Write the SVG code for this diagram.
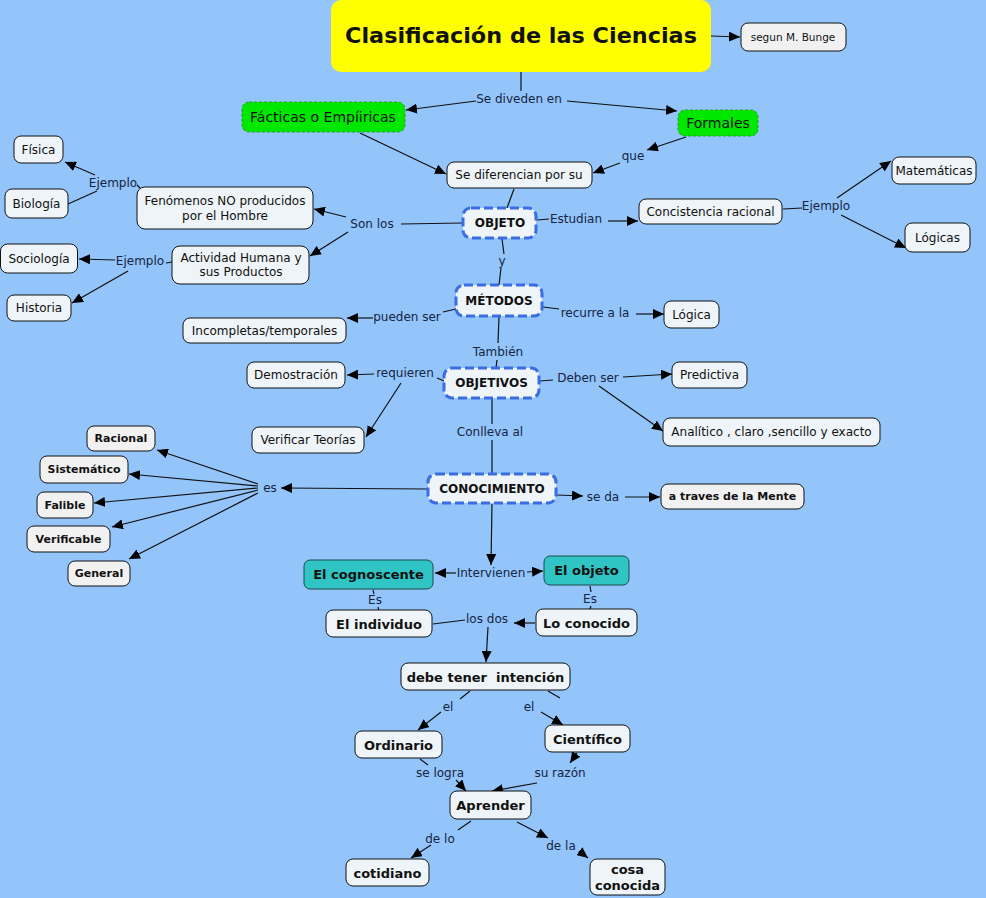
<svg xmlns="http://www.w3.org/2000/svg" width="986" height="898" viewBox="0 0 986 898">
<defs>
<style>
.bg{fill:#93c5fb}
.n rect{fill:#eef4f8;stroke:#111;stroke-width:1}
.gr rect{fill:#f1f1f1}
.d rect{fill:#eef4f8;stroke:#3a6de3;stroke-width:3;stroke-dasharray:9 4}
.g rect{fill:#00e800;stroke:#2a9a2a;stroke-width:1;stroke-dasharray:3 2}
.tl rect{fill:#30c4c4;stroke:#1c4a4a;stroke-width:1}
text{font-family:"DejaVu Sans",Verdana,sans-serif;font-size:12px;fill:#111;text-anchor:middle;dominant-baseline:central}
.b{font-weight:bold}
.s11{font-size:11px}
.s13{font-size:13px}
.s14{font-size:14px}
.lb text{fill:#15243f}
.c line{stroke:#111;stroke-width:1.2}
.c line.a{marker-end:url(#ah)}
</style>
<marker id="ah" markerUnits="userSpaceOnUse" markerWidth="12" markerHeight="10" refX="11" refY="5" orient="auto">
<path d="M0,0 L11,5 L0,10 z" fill="#000"/>
</marker>
</defs>
<rect class="bg" x="0" y="0" width="986" height="898"/>

<g id="connectors" class="c">
<line class="a" x1="711" y1="36" x2="740" y2="37"/>
<line x1="521" y1="72" x2="521" y2="91"/>
<line class="a" x1="476" y1="101" x2="406" y2="110"/>
<line class="a" x1="567" y1="101" x2="677" y2="111"/>
<line class="a" x1="360" y1="133" x2="446" y2="174"/>
<line class="a" x1="686" y1="137" x2="647" y2="150"/>
<line class="a" x1="620" y1="163" x2="593" y2="173"/>
<line x1="514" y1="189" x2="507" y2="208"/>
<line x1="463" y1="223" x2="401" y2="224"/>
<line class="a" x1="346" y1="217" x2="314" y2="209"/>
<line class="a" x1="348" y1="232" x2="310" y2="256"/>
<line x1="137" y1="185" x2="140" y2="188"/>
<line class="a" x1="95" y1="175" x2="65" y2="162"/>
<line x1="97" y1="191" x2="68" y2="204"/>
<line x1="166" y1="263" x2="172" y2="262"/>
<line class="a" x1="115" y1="260" x2="79" y2="259"/>
<line class="a" x1="128" y1="271" x2="72" y2="303"/>
<line x1="537" y1="220" x2="549" y2="219"/>
<line class="a" x1="608" y1="221" x2="638" y2="221"/>
<line x1="783" y1="209" x2="802" y2="208"/>
<line class="a" x1="837" y1="198" x2="891" y2="161"/>
<line class="a" x1="841" y1="215" x2="906" y2="248"/>
<line x1="502" y1="239" x2="504" y2="254"/>
<line x1="501" y1="268" x2="499" y2="285"/>
<line x1="456" y1="309" x2="443" y2="312"/>
<line class="a" x1="373" y1="318" x2="347" y2="318"/>
<line x1="543" y1="307" x2="559" y2="309"/>
<line class="a" x1="636" y1="314" x2="664" y2="314"/>
<line x1="499" y1="317" x2="498" y2="343"/>
<line x1="497" y1="360" x2="496" y2="368"/>
<line x1="444" y1="381" x2="437" y2="378"/>
<line class="a" x1="374" y1="374" x2="347" y2="375"/>
<line class="a" x1="401" y1="383" x2="366" y2="437"/>
<line x1="540" y1="381" x2="553" y2="380"/>
<line class="a" x1="623" y1="377" x2="672" y2="374"/>
<line class="a" x1="599" y1="386" x2="663" y2="431"/>
<line x1="492" y1="399" x2="492" y2="424"/>
<line x1="492" y1="440" x2="492" y2="474"/>
<line class="a" x1="428" y1="489" x2="281" y2="488"/>
<line class="a" x1="258" y1="484" x2="157" y2="450"/>
<line class="a" x1="258" y1="486" x2="129" y2="474"/>
<line class="a" x1="258" y1="488" x2="94" y2="503"/>
<line class="a" x1="258" y1="490" x2="112" y2="527"/>
<line class="a" x1="258" y1="493" x2="129" y2="559"/>
<line class="a" x1="557" y1="495" x2="583" y2="496"/>
<line class="a" x1="625" y1="497" x2="660" y2="497"/>
<line class="a" x1="492" y1="504" x2="491" y2="565"/>
<line class="a" x1="456" y1="573" x2="435" y2="573"/>
<line class="a" x1="527" y1="572" x2="543" y2="571"/>
<line x1="373" y1="590" x2="374" y2="594"/>
<line x1="378" y1="607" x2="379" y2="611"/>
<line x1="590" y1="586" x2="591" y2="592"/>
<line x1="591" y1="606" x2="590" y2="609"/>
<line x1="433" y1="624" x2="465" y2="620"/>
<line class="a" x1="535" y1="623" x2="514" y2="623"/>
<line class="a" x1="488" y1="627" x2="486" y2="662"/>
<line x1="470" y1="691" x2="460" y2="699"/>
<line class="a" x1="441" y1="712" x2="418" y2="730"/>
<line x1="548" y1="691" x2="560" y2="698"/>
<line class="a" x1="541" y1="712" x2="563" y2="725"/>
<line x1="420" y1="759" x2="428" y2="765"/>
<line class="a" x1="456" y1="780" x2="466" y2="791"/>
<line class="a" x1="577" y1="753" x2="570" y2="763"/>
<line class="a" x1="537" y1="783" x2="492" y2="791"/>
<line x1="471" y1="821" x2="458" y2="830"/>
<line class="a" x1="431" y1="845" x2="411" y2="858"/>
<line class="a" x1="517" y1="822" x2="548" y2="838"/>
<line class="a" x1="579" y1="851" x2="588" y2="858"/>
</g>

<g id="labels" class="lb">
<text x="519" y="99">Se diveden en</text>
<text x="633" y="156">que</text>
<text x="372" y="224">Son los</text>
<text x="113" y="183">Ejemplo</text>
<text x="140" y="261">Ejemplo</text>
<text x="576" y="219">Estudian</text>
<text x="826" y="206">Ejemplo</text>
<text x="502" y="261">y</text>
<text x="407" y="317">pueden ser</text>
<text x="595" y="313">recurre a la</text>
<text x="498" y="352">También</text>
<text x="405" y="373">requieren</text>
<text x="588" y="378">Deben ser</text>
<text x="490" y="432">Conlleva al</text>
<text x="270" y="488">es</text>
<text x="603" y="497">se da</text>
<text x="491" y="573">Intervienen</text>
<text x="375" y="600">Es</text>
<text x="590" y="599">Es</text>
<text x="487" y="619">los dos</text>
<text x="448" y="707">el</text>
<text x="529" y="707">el</text>
<text x="440" y="773">se logra</text>
<text x="560" y="773">su razón</text>
<text x="440" y="839">de lo</text>
<text x="561" y="846">de la</text>
</g>

<g id="title">
<rect x="331" y="0" width="380" height="72" rx="10" fill="#ffff00"/>
<text class="b" x="521" y="36" style="font-size:21px" textLength="352" lengthAdjust="spacingAndGlyphs">Clasificación de las Ciencias</text>
</g>
<g id="bunge" class="n gr"><rect x="741" y="23" width="105" height="28" rx="7"/><text x="793" y="37" style="font-size:10.5px">segun M. Bunge</text></g>
<g id="facticas" class="g"><rect x="242" y="102" width="163" height="30" rx="7"/><text class="s14" x="323" y="117">Fácticas o Empíiricas</text></g>
<g id="formales" class="g"><rect x="678" y="110" width="80" height="26" rx="7"/><text class="s14" x="718" y="123">Formales</text></g>
<g id="diferencian" class="n"><rect x="447" y="162" width="145" height="26" rx="7"/><text x="519" y="175">Se diferencian por su</text></g>
<g id="objeto" class="d"><rect x="463" y="208" width="73" height="30" rx="8"/><text class="b" x="500" y="223">OBJETO</text></g>
<g id="fenomenos" class="n"><rect x="137" y="187" width="176" height="42" rx="8"/><text x="225" y="201">Fenómenos NO producidos</text><text x="225" y="216">por el Hombre</text></g>
<g id="actividad" class="n"><rect x="172" y="246" width="137" height="38" rx="8"/><text x="241" y="258">Actividad Humana y</text><text x="241" y="272">sus Productos</text></g>
<g id="fisica" class="n"><rect x="14" y="136" width="49" height="27" rx="7"/><text x="38.5" y="150">Física</text></g>
<g id="biologia" class="n"><rect x="5" y="189" width="63" height="29" rx="7"/><text x="36.5" y="204">Biología</text></g>
<g id="sociologia" class="n"><rect x="0.5" y="244" width="77" height="29" rx="7"/><text x="39" y="259">Sociología</text></g>
<g id="historia" class="n"><rect x="7" y="295" width="64" height="26" rx="7"/><text x="39" y="308">Historia</text></g>
<g id="concistencia" class="n"><rect x="639" y="199" width="143" height="25" rx="7"/><text x="710.5" y="211.5">Concistencia racional</text></g>
<g id="matematicas" class="n"><rect x="892" y="157" width="84" height="27" rx="7"/><text x="934" y="171">Matemáticas</text></g>
<g id="logicas" class="n"><rect x="905" y="223" width="65" height="29" rx="7"/><text x="937.5" y="238">Lógicas</text></g>
<g id="metodos" class="d"><rect x="456" y="285" width="86" height="31" rx="8"/><text class="b" x="499" y="301">MÉTODOS</text></g>
<g id="incompletas" class="n"><rect x="183" y="318" width="163" height="25" rx="7"/><text x="264.5" y="330.5">Incompletas/temporales</text></g>
<g id="logica" class="n"><rect x="664" y="301" width="55" height="27" rx="7"/><text x="691.5" y="315">Lógica</text></g>
<g id="objetivos" class="d"><rect x="444" y="368" width="95" height="30" rx="8"/><text class="b" x="491.5" y="383">OBJETIVOS</text></g>
<g id="demostracion" class="n"><rect x="247" y="362" width="98" height="26" rx="7"/><text x="296" y="375">Demostración</text></g>
<g id="verificar" class="n"><rect x="252" y="427" width="112" height="26" rx="7"/><text x="308" y="440">Verificar Teorías</text></g>
<g id="predictiva" class="n"><rect x="672" y="362" width="75" height="26" rx="7"/><text x="709.5" y="375">Predictiva</text></g>
<g id="analitico" class="n"><rect x="663" y="418" width="217" height="28" rx="7"/><text x="771.5" y="432">Analítico , claro ,sencillo y exacto</text></g>
<g id="conocimiento" class="d"><rect x="428" y="474" width="128" height="29" rx="8"/><text class="b" x="492" y="488.5">CONOCIMIENTO</text></g>
<g id="racional" class="n gr"><rect x="87" y="426" width="68" height="25" rx="7"/><text class="b s11" x="121" y="438.5">Racional</text></g>
<g id="sistematico" class="n gr"><rect x="40" y="456" width="88" height="27" rx="7"/><text class="b s11" x="84" y="469.5">Sistemático</text></g>
<g id="falible" class="n gr"><rect x="37" y="492" width="56" height="26" rx="7"/><text class="b s11" x="65" y="505">Falible</text></g>
<g id="verificable" class="n gr"><rect x="27" y="526" width="83" height="26" rx="7"/><text class="b s11" x="68.5" y="539">Verificable</text></g>
<g id="general" class="n gr"><rect x="68" y="561" width="62" height="25" rx="7"/><text class="b s11" x="99" y="573.5">General</text></g>
<g id="mente" class="n gr"><rect x="661" y="484" width="143" height="25" rx="7"/><text class="b s11" x="732.5" y="496.5">a traves de la Mente</text></g>
<g id="cognoscente" class="tl"><rect x="304" y="560" width="129" height="29" rx="6"/><text class="b s13" x="368.5" y="574.5">El cognoscente</text></g>
<g id="elobjeto" class="tl"><rect x="544" y="556" width="85" height="29" rx="6"/><text class="b s13" x="586.5" y="570">El objeto</text></g>
<g id="individuo" class="n"><rect x="326" y="610" width="106" height="27" rx="7"/><text class="b s13" x="379" y="624">El individuo</text></g>
<g id="loconocido" class="n"><rect x="536" y="609" width="101" height="27" rx="7"/><text class="b s13" x="586.5" y="623">Lo conocido</text></g>
<g id="intencion" class="n"><rect x="401" y="663" width="169" height="27" rx="7"/><text class="b s13" x="485.5" y="677" xml:space="preserve">debe tener  intención</text></g>
<g id="ordinario" class="n"><rect x="355" y="731" width="87" height="27" rx="7"/><text class="b s13" x="398.5" y="745">Ordinario</text></g>
<g id="cientifico" class="n"><rect x="545" y="725" width="85" height="27" rx="7"/><text class="b s13" x="587.5" y="739">Científico</text></g>
<g id="aprender" class="n"><rect x="450" y="791" width="81" height="28" rx="7"/><text class="b s13" x="490.5" y="805">Aprender</text></g>
<g id="cotidiano" class="n"><rect x="346" y="859" width="83" height="27" rx="7"/><text class="b s13" x="387.5" y="873">cotidiano</text></g>
<g id="cosaconocida" class="n"><rect x="590" y="859" width="75" height="36" rx="7"/><text class="b s13" x="627.5" y="869">cosa</text><text class="b s13" x="627.5" y="885">conocida</text></g>
</svg>
